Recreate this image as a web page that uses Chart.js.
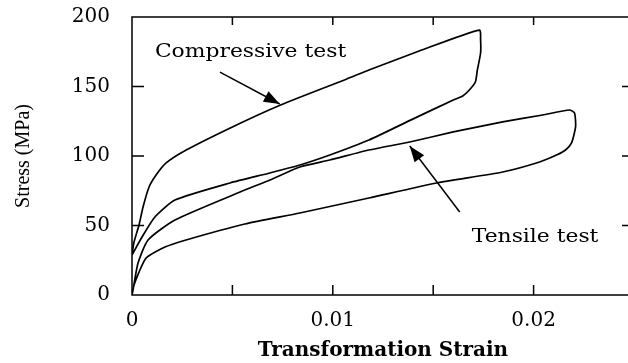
<!DOCTYPE html>
<html>
<head>
<meta charset="utf-8">
<script src="https://cdn.jsdelivr.net/npm/chart.js@4.4.0/dist/chart.umd.min.js"></script>
<style>
    html, body { margin: 0; padding: 0; background: #fff; overflow: hidden; }
</style>
</head>
<body>
<canvas id="stressChart" width="660" height="363"></canvas>
<script>
// ? data
const compStrain = [0, 0.0001, 0.00035, 0.00055, 0.00085, 0.0012, 0.0017, 0.0027, 0.005, 0.0074, 0.0107, 0.0118, 0.0143, 0.0173,
    0.01736, 0.01736, 0.0172, 0.0171, 0.0168, 0.01647, 0.016, 0.0139, 0.0118, 0.00985, 0.00836, 0.00687, 0.00488, 0.00214, 0.00114, 0.0005, 0];
const compStress = [28.8, 38, 50.4, 63.3, 77.7, 86.3, 95, 104.3, 120.9, 136.7, 155.4, 161.9, 175.5, 190.6,
    183.5, 174.1, 161.9, 153.2, 147.5, 143.2, 140.3, 126, 111.5, 100.7, 93.5, 87.8, 80.6, 68.3, 56.1, 41.7, 28.8];

const tensStrain = [0, 0.00005, 0.0003, 0.0008, 0.00214, 0.00562, 0.00687, 0.00836, 0.00985, 0.0118, 0.01383, 0.016, 0.01846, 0.02045, 0.02179,
    0.02204, 0.02209, 0.02189, 0.02159, 0.02114, 0.0203, 0.01846, 0.01517, 0.0118, 0.00836, 0.00562, 0.00269, 0.00164, 0.0007, 0.00035, 0.0001, 0];
const tensStress = [0, 3.6, 23, 39.6, 54, 75.5, 82.7, 92.1, 97.1, 104.3, 110.1, 117.3, 124.5, 129.5, 133.1,
    130.9, 120.9, 109.4, 104.3, 100.7, 95.7, 88.5, 80.6, 69.8, 59, 51.1, 39.6, 34.5, 26.6, 16.5, 7.2, 0];

const xTickValues = [0, 0.01, 0.02];
const xTickLabels = ["0", "0.01", "0.02"];
const xMarks = [0.005, 0.01, 0.015, 0.02];
const yTickValues = [0, 50, 100, 150, 200];
const yMarks = [50, 100, 150];

function zip(xs, ys) {
    return xs.map((x, i) => ({ x: x, y: ys[i] }));
}

// box, inward ticks, labels with arrows
const framePlugin = {
    id: "frame",
    afterDatasetsDraw(chart) {
        const ctx = chart.ctx;
        const a = chart.chartArea;
        const sx = chart.scales.x;
        const sy = chart.scales.y;
        ctx.save();
        ctx.strokeStyle = "#000";
        ctx.lineWidth = 1.5;
        ctx.strokeRect(a.left, a.top, a.right - a.left, a.bottom - a.top);
        ctx.beginPath();
        xMarks.forEach((v) => {
            const px = sx.getPixelForValue(v);
            ctx.moveTo(px, a.bottom);
            ctx.lineTo(px, a.bottom - 10);
            ctx.moveTo(px, a.top);
            ctx.lineTo(px, a.top + 8);
        });
        yMarks.forEach((v) => {
            const py = sy.getPixelForValue(v);
            ctx.moveTo(a.left, py);
            ctx.lineTo(a.left + 12, py);
            ctx.moveTo(a.right, py);
            ctx.lineTo(a.right - 12, py);
        });
        ctx.stroke();

        function arrow(x0, y0, x1, y1) {
            const p0 = [sx.getPixelForValue(x0), sy.getPixelForValue(y0)];
            const p1 = [sx.getPixelForValue(x1), sy.getPixelForValue(y1)];
            const ang = Math.atan2(p1[1] - p0[1], p1[0] - p0[0]);
            ctx.beginPath();
            ctx.moveTo(p0[0], p0[1]);
            ctx.lineTo(p1[0], p1[1]);
            ctx.stroke();
            ctx.beginPath();
            ctx.moveTo(p1[0], p1[1]);
            ctx.lineTo(p1[0] - 16 * Math.cos(ang) + 6 * Math.sin(ang), p1[1] - 16 * Math.sin(ang) - 6 * Math.cos(ang));
            ctx.lineTo(p1[0] - 16 * Math.cos(ang) - 6 * Math.sin(ang), p1[1] - 16 * Math.sin(ang) + 6 * Math.cos(ang));
            ctx.closePath();
            ctx.fill();
        }
        ctx.fillStyle = "#000";
        arrow(0.00438, 160.4, 0.00736, 137.4);
        arrow(0.01632, 59.7, 0.01383, 107.2);

        // the scan is a bit wide, stretch the labels to match
        function label(text, x, y) {
            ctx.save();
            ctx.translate(sx.getPixelForValue(x), sy.getPixelForValue(y));
            ctx.scale(1.15, 1);
            ctx.fillText(text, 0, 0);
            ctx.restore();
        }
        ctx.font = "19px 'DejaVu Serif'";
        ctx.textBaseline = "middle";
        ctx.textAlign = "left";
        label("Compressive test", 0.00114, 174.8);
        label("Tensile test", 0.01692, 41.7);
        ctx.restore();
    },
};

const lineStyle = {
    showLine: true,
    pointRadius: 0,
    borderColor: "#000",
    borderWidth: 1.7,
    fill: false,
    tension: 0.2,
};

let stressChart = new Chart(document.getElementById("stressChart"), {
    type: "scatter",
    data: {
        datasets: [
            Object.assign({ label: "Compressive test", data: zip(compStrain, compStress) }, lineStyle),
            Object.assign({ label: "Tensile test", data: zip(tensStrain, tensStress) }, lineStyle),
        ],
    },
    options: {
        responsive: false,
        animation: false,
        layout: {
            padding: { top: 17, right: 26, bottom: 0, left: 0 },
        },
        scales: {
            x: {
                type: "linear",
                min: 0,
                max: 0.025,
                afterFit: (s) => {
                    s.height = 68;
                    s.paddingLeft = 0;
                    s.paddingRight = 0;
                },
                afterBuildTicks: (s) => { s.ticks = xTickValues.map((v) => ({ value: v })); },
                grid: { display: false, drawTicks: false },
                border: { display: false },
                ticks: {
                    padding: 14,
                    color: "#000",
                    font: { family: "DejaVu Serif", size: 20 },
                    callback: (v) => xTickLabels[xTickValues.indexOf(v)],
                },
                title: {
                    display: true,
                    text: "Transformation Strain",
                    color: "#000",
                    font: { family: "DejaVu Serif", size: 20, weight: "bold" },
                    padding: { top: 0, bottom: 0 },
                },
            },
            y: {
                type: "linear",
                min: 0,
                max: 200,
                afterFit: (s) => {
                    s.width = 132;
                    s.paddingTop = 0;
                    s.paddingBottom = 0;
                },
                afterBuildTicks: (s) => { s.ticks = yTickValues.map((v) => ({ value: v })); },
                grid: { display: false, drawTicks: false },
                border: { display: false },
                ticks: {
                    padding: 22,
                    color: "#000",
                    font: { family: "DejaVu Serif", size: 20 },
                },
                title: {
                    display: true,
                    text: "Stress (MPa)",
                    color: "#000",
                    font: { family: "Liberation Serif", size: 20 },
                    padding: { top: 12, bottom: 0 },
                },
            },
        },
        plugins: {
            legend: { display: false },
            tooltip: { enabled: false },
        },
    },
    plugins: [framePlugin],
});
</script>
</body>
</html>
